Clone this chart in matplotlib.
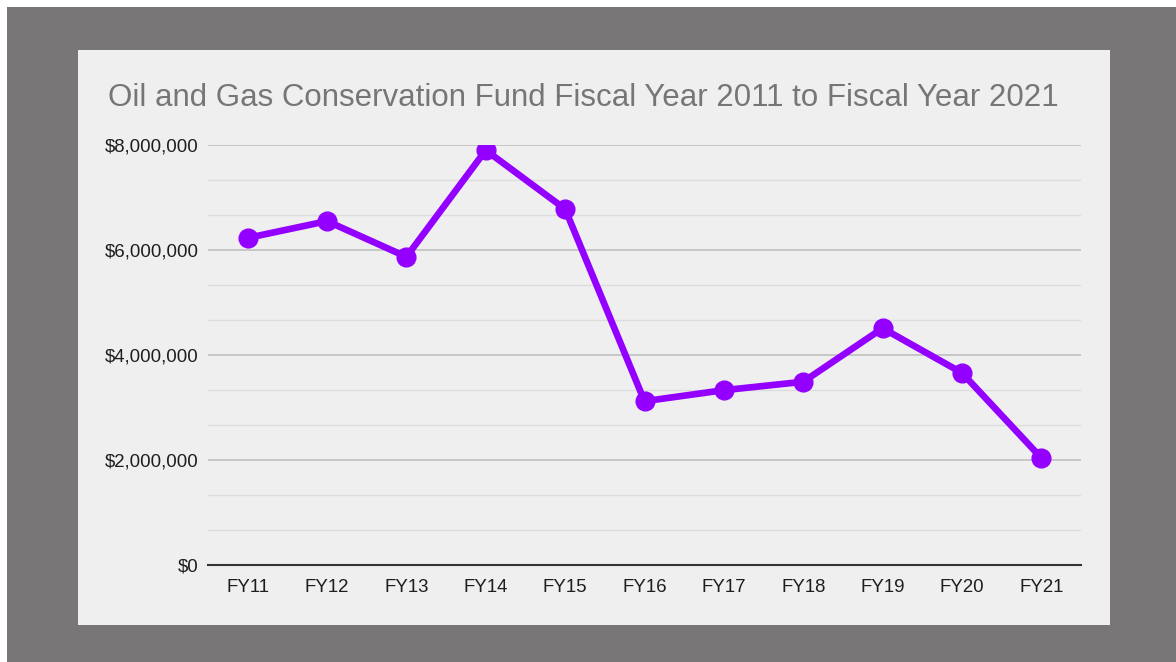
import matplotlib.pyplot as plt
import matplotlib.ticker as mticker
from matplotlib.patches import Rectangle

# data
years = ['FY11', 'FY12', 'FY13', 'FY14', 'FY15', 'FY16', 'FY17', 'FY18', 'FY19', 'FY20', 'FY21']
fund = [6230000, 6550000, 5870000, 7900000, 6780000, 3120000, 3330000, 3490000, 4510000, 3660000, 2040000]

W, H = 1176, 662
fig = plt.figure(figsize=(W / 100, H / 100), dpi=100)
fig.patch.set_facecolor('white')

# gray frame and light panel
fig.patches.append(Rectangle((7 / W, 0), 1 - 7 / W, 1 - 7 / H, transform=fig.transFigure,
                             facecolor='#787676', edgecolor='none', zorder=-3))
fig.patches.append(Rectangle((78 / W, 1 - 625 / H), (1110 - 78) / W, (625 - 50) / H,
                             transform=fig.transFigure, facecolor='#efefef', edgecolor='none', zorder=-2))

ax = fig.add_axes([208 / W, 1 - 565 / H, (1081 - 208) / W, (565 - 145) / H])
ax.set_facecolor('none')

x = list(range(len(years)))
ax.plot(x, fund, color='#9400ff', lw=4.8, marker='o', markersize=13.5, solid_joinstyle='round')

ax.set_xlim(-0.5, len(years) - 0.5)
ax.set_ylim(0, 8000000)
ax.set_xticks(x)
ax.set_xticklabels(years)
ax.yaxis.set_major_locator(mticker.MultipleLocator(2000000))
ax.yaxis.set_minor_locator(mticker.MultipleLocator(2000000 / 3))
ax.yaxis.set_major_formatter(mticker.FuncFormatter(lambda v, p: '${:,.0f}'.format(v)))

ax.grid(axis='y', which='major', color='#c3c3c3', lw=1.3)
ax.grid(axis='y', which='minor', color='#dddddd', lw=1.0)
ax.set_axisbelow(True)
for s in ['top', 'right', 'left']:
    ax.spines[s].set_visible(False)
ax.spines['bottom'].set_color('#333333')
ax.spines['bottom'].set_linewidth(1.5)
ax.tick_params(axis='both', which='both', length=0, labelsize=13.4, colors='#1e1e1e', pad=10)
ax.tick_params(axis='y', pad=6.5)

fig.text(108 / W, 1 - 98 / H, 'Oil and Gas Conservation Fund Fiscal Year 2011 to Fiscal Year 2021',
         fontsize=22.5, color='#767676', family='Liberation Sans', va='center', ha='left')
for lbl in ax.get_xticklabels() + ax.get_yticklabels():
    lbl.set_family('Liberation Sans')

fig.savefig('out.png', dpi=100, facecolor=fig.get_facecolor())
